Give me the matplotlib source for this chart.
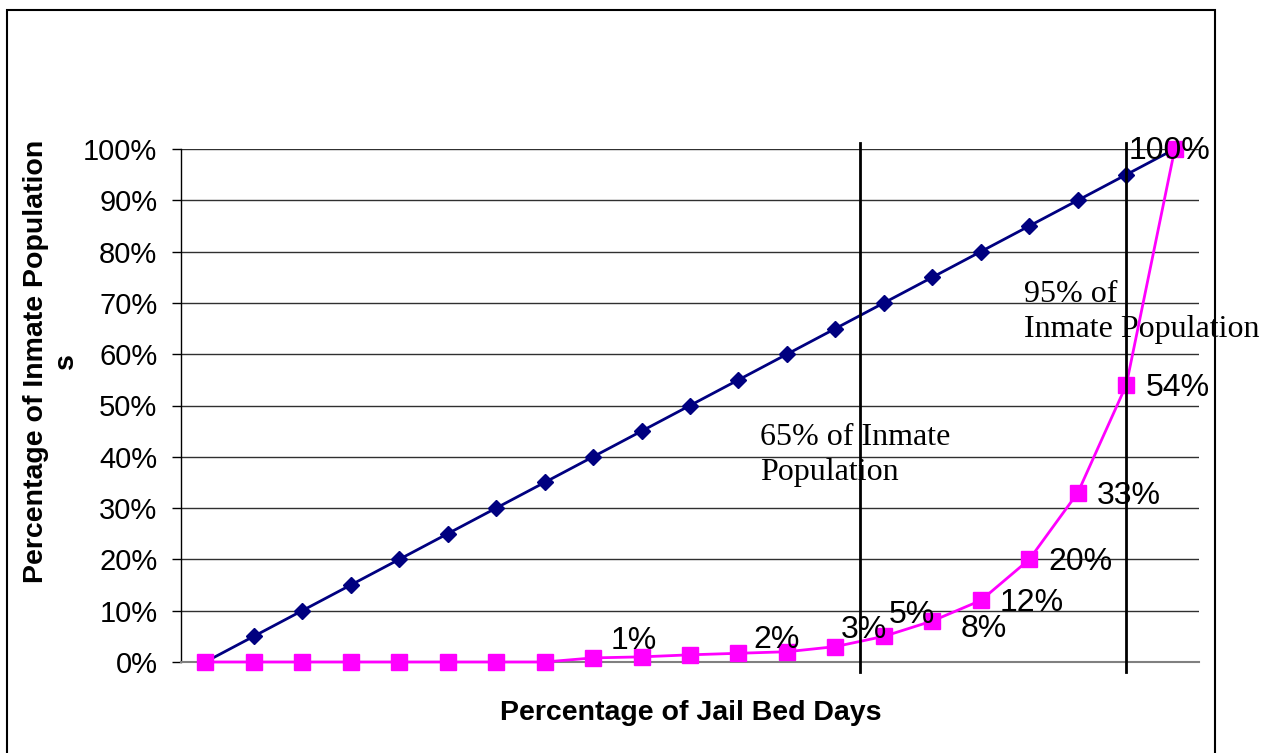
import matplotlib
matplotlib.use("Agg")
import numpy as np
import matplotlib.pyplot as plt
from matplotlib.patches import Rectangle
from matplotlib.ticker import PercentFormatter

# 21 categories along the jail bed days axis
bed_days = np.arange(21)
inmates = [0, 5, 10, 15, 20, 25, 30, 35, 40, 45, 50, 55, 60, 65, 70, 75, 80, 85, 90, 95, 100]
bed_share = [0, 0, 0, 0, 0, 0, 0, 0, 0.8, 1.0, 1.4, 1.7, 2, 3, 5, 8, 12, 20, 33, 54, 100]

# labelled points: (index, text, x offset px, y offset px, ha)
labels = [
    (9, "1%", -8, 16, "center"),
    (12, "2%", -10, 12, "center"),
    (13, "3%", 28, 17, "center"),
    (14, "5%", 28, 21, "center"),
    (15, "8%", 28, -8, "left"),
    (16, "12%", 19, -3, "left"),
    (17, "20%", 19, -3, "left"),
    (18, "33%", 19, -3, "left"),
    (19, "54%", 19, -3, "left"),
    (20, "100%", -5, -2, "center"),
]

W, H = 1268, 753
fig = plt.figure(figsize=(W / 100, H / 100), dpi=100)
ax = fig.add_axes([181 / W, 1 - 662 / H, (1199 - 181) / W, (662 - 149) / H])

ax.plot(bed_days, inmates, color="#000080", lw=2, marker="D", ms=8.5, zorder=3, clip_on=False)
ax.plot(bed_days, bed_share, color="#FF00FF", lw=2, marker="s", ms=11, zorder=4, clip_on=False)

ax.set_xlim(-0.5, 20.5)
ax.set_ylim(0, 100)
ax.set_yticks(np.arange(0, 101, 10))
ax.yaxis.set_major_formatter(PercentFormatter(decimals=0))
ax.set_xticks([])
ax.tick_params(axis="y", labelsize=21, length=6.5, width=1, pad=10.5, direction="out")
for t in ax.get_yticklabels():
    t.set_fontfamily("Liberation Sans")
ax.grid(axis="y", color="#303030", lw=1)
ax.set_axisbelow(True)
for s in ["top", "right"]:
    ax.spines[s].set_visible(False)
ax.spines["bottom"].set_color("#808080")
ax.spines["bottom"].set_linewidth(1.5)
ax.spines["left"].set_linewidth(1)

# vertical marker lines
for xv in [13.5, 19.0]:
    ax.plot([xv, xv], [-2, 101.2], color="black", lw=2, clip_on=False, zorder=5)

for i, txt, dx, dy, ha in labels:
    ax.annotate(txt, (bed_days[i], bed_share[i]), xytext=(dx * 0.72, dy * 0.72),
                textcoords="offset points", ha=ha, va="center", fontsize=23,
                family="Liberation Sans", zorder=6)

ax.text(11.44, 46.6, "65% of Inmate\nPopulation", fontsize=23, family="Liberation Serif",
        va="top", ha="left", linespacing=1.27)
ax.text(16.89, 74.4, "95% of\nInmate Population", fontsize=23, family="Liberation Serif",
        va="top", ha="left", linespacing=1.27)

fig.text(51 / W, 1 - 361 / H, "Percentage of Inmate Population\ns", rotation=90,
         ha="center", va="center", fontsize=20.5, fontweight="bold",
         family="Liberation Sans", multialignment="center", linespacing=1.2)
fig.text(691 / W, 1 - 713 / H, "Percentage of Jail Bed Days", ha="center", va="center",
         fontsize=20.5, fontweight="bold", family="Liberation Sans")

fig.patches.append(Rectangle((7 / W, -0.05), (1215 - 7) / W, 1.05 - 10 / H,
                             transform=fig.transFigure, fill=False, ec="black", lw=1.5))

fig.savefig("out.png", dpi=100)
